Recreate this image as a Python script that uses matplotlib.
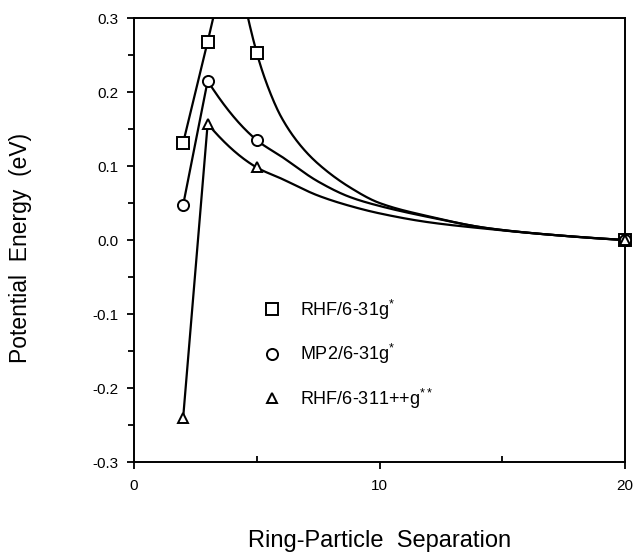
import numpy as np
import matplotlib
matplotlib.use("Agg")
import matplotlib.pyplot as plt
from matplotlib.lines import Line2D
from matplotlib.ticker import MultipleLocator, FixedLocator

plt.rcParams['font.family'] = ['Liberation Sans', 'DejaVu Sans']
plt.rcParams['mathtext.default'] = 'regular'
plt.rcParams['axes.unicode_minus'] = False

# ---- data ----
separation = [2, 3, 5, 20]                      # marked points
rhf_631g = [0.131, 0.268, 0.253, 0.0]
mp2_631g = [0.047, 0.215, 0.135, 0.0]
rhf_6311g = [-0.241, 0.157, 0.098, 0.0]

# unmarked points
rhf_631g_trace_x = [4, 5.5, 6, 6.75, 7.5, 8.8, 10, 12, 14.4, 17]
rhf_631g_trace_y = [0.41, 0.203, 0.166, 0.129, 0.103, 0.071, 0.050, 0.032, 0.016, 0.007]
mp2_631g_trace_x = [6, 7.5, 8.8, 10, 12, 14.4, 17]
mp2_631g_trace_y = [0.113, 0.079, 0.058, 0.046, 0.031, 0.016, 0.007]
rhf_6311g_trace_x = [6, 7.5, 8.8, 10, 12, 14.4, 17]
rhf_6311g_trace_y = [0.083, 0.060, 0.046, 0.036, 0.024, 0.015, 0.007]

labels = ['RHF/6-31g$^{*}$', 'MP2/6-31g$^{*}$', 'RHF/6-311++g$^{**}$']
markers = ['s', 'o', '^']

x_ticks = [0, 10, 20]
y_ticks = [-0.3, -0.2, -0.1, 0.0, 0.1, 0.2, 0.3]
y_ticklabels = ['-0.3', '-0.2', '-0.1', '0.0', '0.1', '0.2', '0.3']


def pchip(x, y, xn):
    x = np.asarray(x, float)
    y = np.asarray(y, float)
    h = np.diff(x)
    d = np.diff(y) / h
    n = len(x)
    m = np.zeros(n)
    for k in range(1, n - 1):
        if d[k - 1] * d[k] > 0:
            w1 = 2 * h[k] + h[k - 1]
            w2 = h[k] + 2 * h[k - 1]
            m[k] = (w1 + w2) / (w1 / d[k - 1] + w2 / d[k])

    def end(h0, h1, d0, d1):
        s = ((2 * h0 + h1) * d0 - h0 * d1) / (h0 + h1)
        if np.sign(s) != np.sign(d0):
            s = 0.0
        elif np.sign(d0) != np.sign(d1) and abs(s) > abs(3 * d0):
            s = 3 * d0
        return s
    m[0] = end(h[0], h[1], d[0], d[1])
    m[-1] = end(h[-1], h[-2], d[-1], d[-2])
    idx = np.clip(np.searchsorted(x, xn) - 1, 0, n - 2)
    t = (xn - x[idx]) / h[idx]
    h00 = 2 * t**3 - 3 * t**2 + 1
    h10 = t**3 - 2 * t**2 + t
    h01 = -2 * t**3 + 3 * t**2
    h11 = t**3 - t**2
    return (h00 * y[idx] + h10 * h[idx] * m[idx]
            + h01 * y[idx + 1] + h11 * h[idx] * m[idx + 1])


def curve(mx, my, tx, ty):
    xs = np.array(list(mx) + list(tx), float)
    ys = np.array(list(my) + list(ty), float)
    o = np.argsort(xs)
    xs, ys = xs[o], ys[o]
    p = int(np.argmax(ys))
    # straight rise up to the peak, smooth decay afterwards
    xr, yr = xs[:p + 1], ys[:p + 1]
    xd = np.linspace(xs[p], xs[-1], 600)
    yd = pchip(xs[p:], ys[p:], xd)
    return np.concatenate([xr, xd[1:]]), np.concatenate([yr, yd[1:]])


fig = plt.figure(figsize=(6.37, 5.52), dpi=100)
ax = fig.add_axes([134 / 637, 1 - 462 / 552, 491 / 637, 444 / 552])

series = [
    (rhf_631g, rhf_631g_trace_x, rhf_631g_trace_y),
    (mp2_631g, mp2_631g_trace_x, mp2_631g_trace_y),
    (rhf_6311g, rhf_6311g_trace_x, rhf_6311g_trace_y),
]
for (my, tx, ty), mk in zip(series, markers):
    cx, cy = curve(separation, my, tx, ty)
    ax.plot(cx, cy, color='black', lw=1.6, zorder=2, solid_joinstyle='round')
    ax.plot(separation, my, ls='none', marker=mk, ms=8 if mk != '^' else 7.5,
            mfc='white', mec='black', mew=1.4, zorder=4, clip_on=False)

ax.set_xlim(0, 20)
ax.set_ylim(-0.3, 0.3)
ax.xaxis.set_major_locator(FixedLocator(x_ticks))
ax.xaxis.set_minor_locator(MultipleLocator(5))
ax.yaxis.set_major_locator(FixedLocator(y_ticks))
ax.set_yticklabels(y_ticklabels)
ax.yaxis.set_minor_locator(MultipleLocator(0.05))

ax.tick_params(axis='x', which='major', direction='out', length=5, width=1.3,
               pad=7, labelsize=11)
ax.tick_params(axis='x', which='minor', direction='in', length=4, width=1.3)
ax.tick_params(axis='y', which='major', direction='out', length=5, width=1.3,
               pad=6, labelsize=11)
ax.tick_params(axis='y', which='minor', direction='out', length=4, width=1.3)
for s in ax.spines.values():
    s.set_linewidth(1.4)

ax.set_xlabel('Ring-Particle  Separation', fontsize=17)
ax.set_ylabel('Potential  Energy  (eV)', fontsize=16.5)
ax.xaxis.set_label_coords(0.5, -0.153)
ax.yaxis.set_label_coords(-0.208, 0.483)

handles = [Line2D([], [], ls='none', marker=mk, ms=8 if mk != '^' else 7.5,
                  mfc='white', mec='black', mew=1.4) for mk in markers]
ax.legend(handles, labels, loc='upper left', bbox_to_anchor=(0.2627, 0.3705),
          frameon=False, fontsize=13, handlelength=1.0, handletextpad=1.05,
          labelspacing=1.13, borderpad=0, borderaxespad=0)

fig.savefig('out.png', dpi=100)
